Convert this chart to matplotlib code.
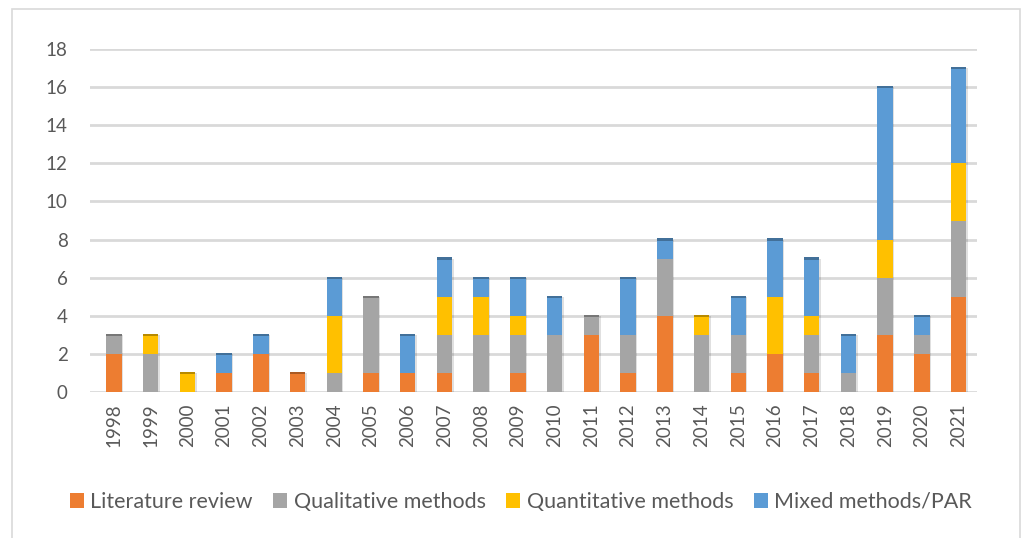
import matplotlib
matplotlib.use("Agg")
import matplotlib.pyplot as plt
import numpy as np
from matplotlib.patches import Rectangle
from matplotlib.colors import to_rgb

years = [str(y) for y in range(1998, 2022)]
literature = [2, 0, 0, 1, 2, 1, 0, 1, 1, 1, 0, 1, 0, 3, 1, 4, 0, 1, 2, 1, 0, 3, 2, 5]
qualitative = [1, 2, 0, 0, 0, 0, 1, 4, 0, 2, 3, 2, 3, 1, 2, 3, 3, 2, 0, 2, 1, 3, 1, 4]
quantitative = [0, 1, 1, 0, 0, 0, 3, 0, 0, 2, 2, 1, 0, 0, 0, 0, 1, 0, 3, 1, 0, 2, 0, 3]
mixed = [0, 0, 0, 1, 1, 0, 2, 0, 2, 2, 1, 2, 2, 0, 3, 1, 0, 2, 3, 3, 2, 8, 1, 5]

series = [
    ("Literature review", literature, "#ED7D31"),
    ("Qualitative methods", qualitative, "#A5A5A5"),
    ("Quantitative methods", quantitative, "#FFC000"),
    ("Mixed methods/PAR", mixed, "#5B9BD5"),
]

plt.rcParams['font.family'] = ['Lato', 'DejaVu Sans']

fig = plt.figure(figsize=(10.22, 5.38), dpi=100)
ax = fig.add_axes([90/1022, 1-392/538, (977-90)/1022, (392-49)/538])

x = np.arange(len(years))
w = 0.42
bottom = np.zeros(len(years))
top_color = [None]*len(years)
for name, vals, col in series:
    v = np.array(vals, dtype=float)
    ax.bar(x, v, w, bottom=bottom, color=col, label=name, zorder=3, linewidth=0)
    for i in range(len(years)):
        if v[i] > 0:
            top_color[i] = col
    bottom += v

# darker cap on top of each stack (3D look)
for i in range(len(years)):
    c = np.array(to_rgb(top_color[i])) * 0.72
    ax.bar(x[i], 0.12, w, bottom=bottom[i]-0.06, color=c, zorder=4, linewidth=0)
    ax.bar(x[i] + w/2, bottom[i], 0.04, bottom=0, color=(0, 0, 0, 0.12), zorder=4, linewidth=0, align='edge')

ax.set_ylim(0, 18)
ax.set_xlim(-0.65, 23.5)
ax.set_yticks(range(0, 19, 2))
ax.yaxis.grid(True, color="#D9D9D9", linewidth=2, zorder=0)
ax.set_axisbelow(True)
for s in ax.spines.values():
    s.set_visible(False)
ax.tick_params(axis='both', length=0, colors="#595959", labelsize=13.5)
ax.tick_params(axis='y', pad=16)
ax.set_xticks(x)
ax.set_xticklabels(years, rotation=90)
ax.tick_params(axis='x', pad=8)

handles, labels = ax.get_legend_handles_labels()
leg = fig.legend(handles, labels, loc='center', bbox_to_anchor=(521/1022, 1-502/538), ncol=4,
                 frameon=False, fontsize=15.5, handlelength=0.65, handleheight=0.65,
                 handletextpad=0.3, columnspacing=0.95, labelcolor="#595959")

fig.patches.append(Rectangle((12/1022, -0.01), 1008/1022, 1.01 - 9/538, transform=fig.transFigure,
                             fill=False, edgecolor="#D9D9D9", linewidth=1.2))

fig.savefig("out.png", dpi=100, facecolor="white")
